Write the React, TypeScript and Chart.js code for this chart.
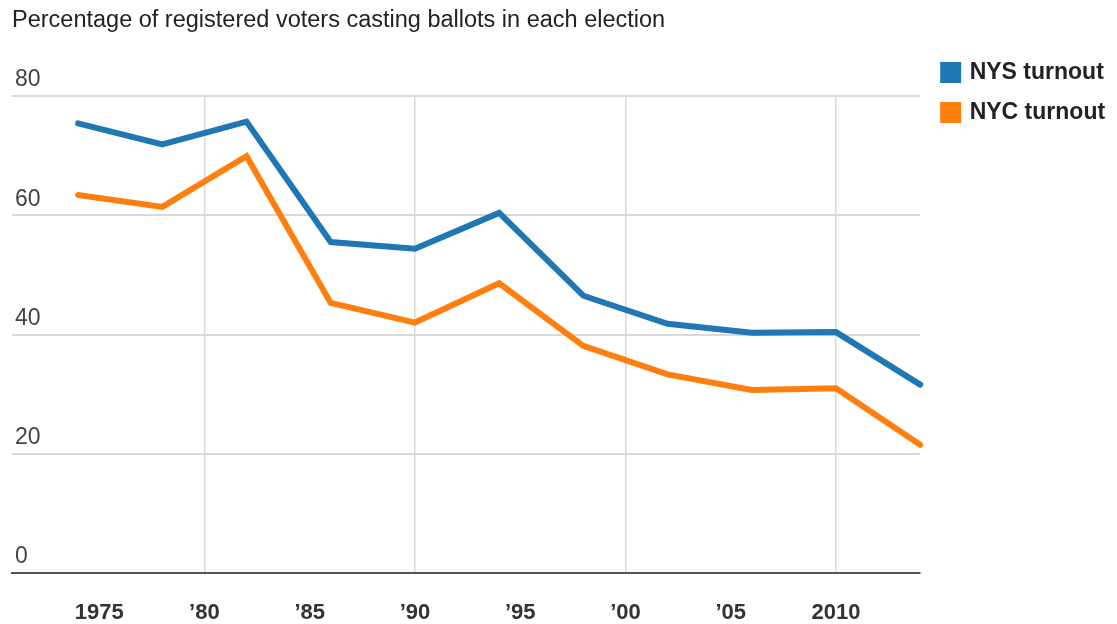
import React, { useEffect, useRef } from "react";
import { Chart, registerables } from "chart.js";

Chart.register(...registerables);

const titleText = "Percentage of registered voters casting ballots in each election";
const years = [1974, 1978, 1982, 1986, 1990, 1994, 1998, 2002, 2006, 2010, 2014];
const nysTurnout = [75.4, 71.9, 75.7, 55.5, 54.4, 60.4, 46.5, 41.8, 40.3, 40.4, 31.6];
const nycTurnout = [63.4, 61.4, 69.9, 45.3, 42.0, 48.6, 38.1, 33.3, 30.7, 31.0, 21.5];
const xTickValues = [1975, 1980, 1985, 1990, 1995, 2000, 2005, 2010];
const xTickLabels = ["1975", "\u201980", "\u201985", "\u201990", "\u201995", "\u201900", "\u201905", "2010"];
const yTickValues = [0, 20, 40, 60, 80];

const BLUE = "#1f77b4";
const ORANGE = "#ff7f0e";
const FONT = "'Liberation Sans', Arial, sans-serif";

export default function App() {
  const canvasRef = useRef<HTMLCanvasElement | null>(null);

  useEffect(() => {
    if (!canvasRef.current) return;
    const chart = new Chart(canvasRef.current, {
      type: "line",
      data: {
        datasets: [
          {
            label: "NYS turnout",
            data: years.map((y, i) => ({ x: y, y: nysTurnout[i] })),
            borderColor: BLUE,
            backgroundColor: BLUE,
            borderWidth: 6,
            pointRadius: 0,
            borderCapStyle: "round",
            tension: 0,
            clip: false as any,
          },
          {
            label: "NYC turnout",
            data: years.map((y, i) => ({ x: y, y: nycTurnout[i] })),
            borderColor: ORANGE,
            backgroundColor: ORANGE,
            borderWidth: 6,
            pointRadius: 0,
            borderCapStyle: "round",
            tension: 0,
            clip: false as any,
          },
        ],
      },
      options: {
        animation: false,
        responsive: true,
        maintainAspectRatio: false,
        layout: { padding: { left: 12, right: 8, top: 0, bottom: 0 } },
        plugins: {
          tooltip: { enabled: false },
          title: {
            display: true,
            text: titleText,
            align: "start",
            color: "#222",
            font: { family: FONT, size: 23.5, weight: "normal", lineHeight: 1.2 },
            padding: { top: 6, bottom: 61.8 },
          },
          legend: {
            display: true,
            position: "right",
            align: "start",
            fullSize: true,
            title: {
              display: true,
              text: "",
              font: { size: 10, lineHeight: 1.2 },
              padding: { top: 32, bottom: 0 },
            },
            labels: {
              boxWidth: 15,
              boxHeight: 15,
              padding: 17,
              color: "#222",
              font: { family: FONT, size: 23, weight: "bold" },
            },
          },
        },
        scales: {
          x: {
            type: "linear",
            min: 1970.86,
            max: 2014,
            afterBuildTicks: (axis: any) => {
              axis.ticks = xTickValues.map((v) => ({ value: v }));
            },
            afterFit: (axis: any) => {
              axis.height = 51;
            },
            grid: {
              drawTicks: false,
              color: (ctx: any) => (ctx.tick && ctx.tick.value % 10 === 0 ? "#d9d9d9" : "rgba(0,0,0,0)"),
              lineWidth: 1.5,
            },
            border: { display: true, color: "#555", width: 2 },
            ticks: {
              padding: 27,
              color: "#333",
              font: { family: FONT, size: 22, weight: "bold" },
              callback: (value: any) => {
                const idx = xTickValues.indexOf(Number(value));
                return idx >= 0 ? xTickLabels[idx] : "";
              },
            },
          },
          y: {
            type: "linear",
            min: 0,
            max: 80,
            afterBuildTicks: (axis: any) => {
              axis.ticks = yTickValues.map((v) => ({ value: v }));
            },
            afterFit: (axis: any) => {
              axis.width = 0;
            },
            grid: {
              drawTicks: false,
              color: (ctx: any) => (ctx.tick && ctx.tick.value === 0 ? "rgba(0,0,0,0)" : "#d9d9d9"),
              lineWidth: 2,
            },
            border: { display: false },
            ticks: {
              mirror: true,
              padding: 3,
              labelOffset: -16,
              color: "#444",
              font: { family: FONT, size: 23, weight: "normal" },
            },
          },
          gap: {
            type: "linear",
            position: "right",
            display: true,
            grid: { display: false, drawTicks: false },
            border: { display: false },
            ticks: { display: false },
            afterFit: (axis: any) => {
              axis.width = 6;
            },
          },
        },
      },
    });
    return () => chart.destroy();
  }, []);

  return (
    <div style={{ position: "fixed", left: 0, top: 0, width: 1117, height: 624, background: "#fff" }}>
      <canvas ref={canvasRef} />
    </div>
  );
}
